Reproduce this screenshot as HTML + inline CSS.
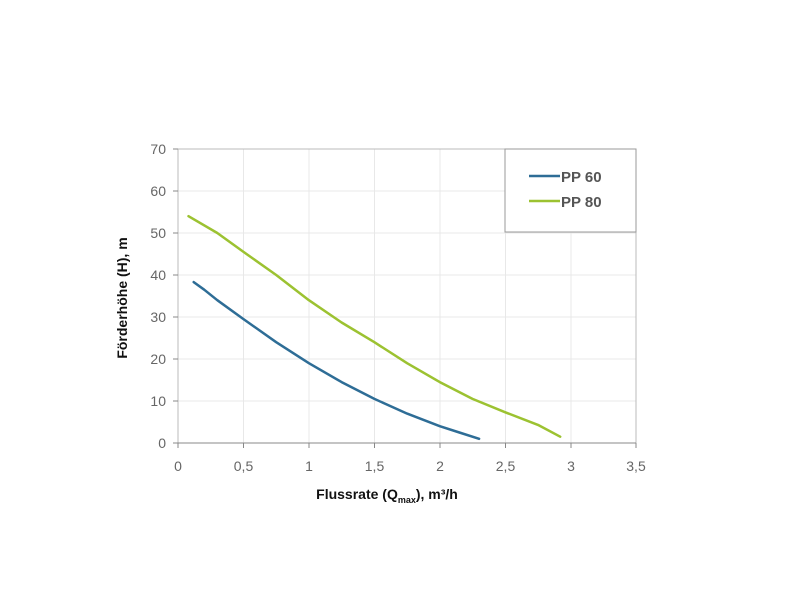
<!DOCTYPE html>
<html><head><meta charset="utf-8"><style>body{margin:0;background:#fff}svg{display:block}</style></head><body>
<svg width="800" height="600" xmlns="http://www.w3.org/2000/svg" font-family="Liberation Sans, sans-serif">
<g stroke="#e8e8e8" stroke-width="1">
<line x1="243.5" y1="149" x2="243.5" y2="443"/><line x1="309" y1="149" x2="309" y2="443"/><line x1="374.5" y1="149" x2="374.5" y2="443"/><line x1="440" y1="149" x2="440" y2="443"/><line x1="505.5" y1="149" x2="505.5" y2="443"/><line x1="571" y1="149" x2="571" y2="443"/>
<line x1="178" y1="401" x2="636" y2="401"/><line x1="178" y1="359" x2="636" y2="359"/><line x1="178" y1="317" x2="636" y2="317"/><line x1="178" y1="275" x2="636" y2="275"/><line x1="178" y1="233" x2="636" y2="233"/><line x1="178" y1="191" x2="636" y2="191"/>
</g>
<rect x="178" y="149" width="458" height="294" fill="none" stroke="#bbb"/>
<line x1="178" y1="443" x2="636" y2="443" stroke="#888"/>
<g stroke="#888"><line x1="178" y1="443" x2="178" y2="448"/><line x1="243.5" y1="443" x2="243.5" y2="448"/><line x1="309" y1="443" x2="309" y2="448"/><line x1="374.5" y1="443" x2="374.5" y2="448"/><line x1="440" y1="443" x2="440" y2="448"/><line x1="505.5" y1="443" x2="505.5" y2="448"/><line x1="571" y1="443" x2="571" y2="448"/><line x1="636" y1="443" x2="636" y2="448"/>
<line x1="173" y1="149" x2="178" y2="149"/><line x1="173" y1="191" x2="178" y2="191"/><line x1="173" y1="233" x2="178" y2="233"/><line x1="173" y1="275" x2="178" y2="275"/><line x1="173" y1="317" x2="178" y2="317"/><line x1="173" y1="359" x2="178" y2="359"/><line x1="173" y1="401" x2="178" y2="401"/><line x1="173" y1="443" x2="178" y2="443"/></g>
<rect x="505" y="149" width="131" height="83" fill="#fff" stroke="#999"/>
<g font-size="14" fill="#666" text-anchor="end">
<text x="166" y="448">0</text><text x="166" y="406">10</text><text x="166" y="364">20</text><text x="166" y="322">30</text><text x="166" y="280">40</text><text x="166" y="238">50</text><text x="166" y="196">60</text><text x="166" y="154">70</text></g>
<g font-size="14" fill="#666" text-anchor="middle">
<text x="178" y="471">0</text><text x="243.5" y="471">0,5</text><text x="309" y="471">1</text><text x="374.5" y="471">1,5</text><text x="440" y="471">2</text><text x="505.5" y="471">2,5</text><text x="571" y="471">3</text><text x="636" y="471">3,5</text></g>
<text x="387" y="499" font-size="14" font-weight="bold" text-anchor="middle" fill="#111">Flussrate (Q<tspan font-size="9" dy="4">max</tspan><tspan dy="-4">), m³/h</tspan></text>
<text transform="translate(127,298) rotate(-90)" font-size="14" font-weight="bold" text-anchor="middle" fill="#111">Förderhöhe (H), m</text>
<polyline points="188.5,216.2 217.3,233 243.5,251.9 276.2,275 308.9,300.2 341.6,322.5 374.4,342.2 407.1,363.2 439.8,382.1 472.5,398.9 505.3,412.3 538,424.9 560.2,436.7" fill="none" stroke="#9cc231" stroke-width="2.5" stroke-linejoin="round" stroke-linecap="round"/>
<polyline points="193.7,282.1 204.2,289.7 217.3,300.2 243.5,319.1 276.2,342.2 308.9,363.2 341.6,382.1 374.4,398.9 407.1,413.6 439.8,426.2 459.4,432.5 479.1,438.8" fill="none" stroke="#2e6d96" stroke-width="2.5" stroke-linejoin="round" stroke-linecap="round"/>
<line x1="529" y1="176" x2="560" y2="176" stroke="#2e6d96" stroke-width="2.5"/>
<line x1="529" y1="201" x2="560" y2="201" stroke="#9cc231" stroke-width="2.5"/>
<text x="561" y="182" font-size="15" font-weight="bold" fill="#555">PP 60</text>
<text x="561" y="207" font-size="15" font-weight="bold" fill="#555">PP 80</text>
</svg>
</body></html>
